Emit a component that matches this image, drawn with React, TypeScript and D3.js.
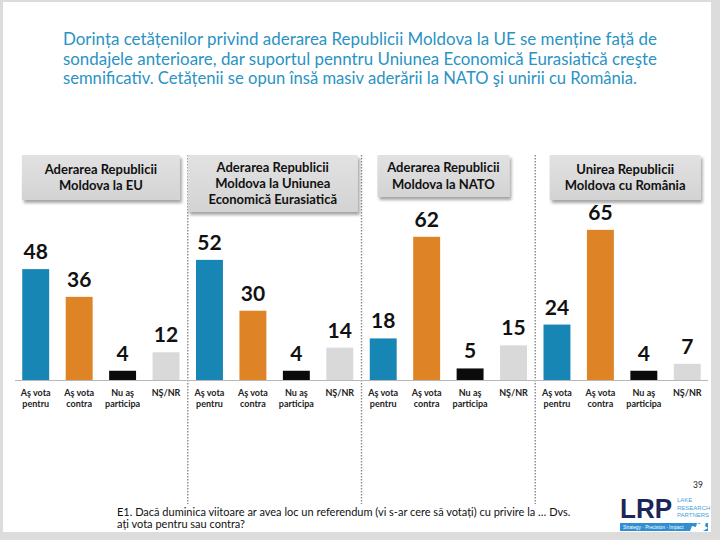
import React from "react";
import * as d3 from "d3";

const headlineLines = [
  "Dorința cetățenilor privind aderarea Republicii Moldova la UE se menține față de",
  "sondajele anterioare, dar suportul penntru Uniunea Economică Eurasiatică creşte",
  "semnificativ. Cetățenii se opun însă masiv aderării la NATO şi unirii cu România.",
];
const panelIds = ["EU", "UEE", "NATO", "RO"];
const panelTitles = [
  ["Aderarea Republicii", "Moldova la EU"],
  ["Aderarea Republicii", "Moldova la Uniunea", "Economică Eurasiatică"],
  ["Aderarea Republicii", "Moldova la NATO"],
  ["Unirea Republicii", "Moldova cu România"],
];
const categories = ["Aş vota pentru", "Aş vota contra", "Nu aş participa", "NŞ/NR"];
const categoryLines = [["Aş vota", "pentru"], ["Aş vota", "contra"], ["Nu aş", "participa"], ["NŞ/NR"]];
const valuesEU = [48, 36, 4, 12];
const valuesUEE = [52, 30, 4, 14];
const valuesNATO = [18, 62, 5, 15];
const valuesRO = [24, 65, 4, 7];
const footnoteLines = [
  "E1. Dacă duminica viitoare ar avea loc un referendum (vi s-ar cere să votați) cu privire la … Dvs.",
  "ați vota pentru sau contra?",
];
const pageNumber = "39";
const logoWords = ["LAKE", "RESEARCH", "PARTNERS"];

const seriesValues = [valuesEU, valuesUEE, valuesNATO, valuesRO];
const barColors = ["#1786b4", "#de8426", "#0b0b0b", "#d9d9d9"];
const boxWidths = [158, 170, 132, 151];
const boxHeights = [45, 57, 42, 45];
const boxOffsets = [0, -1, -5, 3];
const FONT = "Lato, 'Open Sans', sans-serif";

export default function App() {
  const W = 720, H = 540;
  const baseY = 380;
  const panelX = d3.scaleBand<string>().domain(panelIds).range([14, 709]).padding(0);
  const catX = d3
    .scaleBand<string>()
    .domain(categories)
    .range([0, panelX.bandwidth()])
    .paddingInner(0.38)
    .paddingOuter(0.19);
  const y = d3.scaleLinear().domain([0, 100]).range([baseY, baseY - 231]);
  const titleWidths = [594, 594, 574];

  return (
    <svg width={W} height={H} style={{ position: "absolute", left: 0, top: 0 }} fontFamily={FONT}>
      <defs>
        <linearGradient id="boxg" x1="0" y1="0" x2="0" y2="1">
          <stop offset="0" stopColor="#e2e2e2" />
          <stop offset="1" stopColor="#d3d3d3" />
        </linearGradient>
        <filter id="shadow" x="-10%" y="-20%" width="130%" height="160%">
          <feDropShadow dx="2" dy="3" stdDeviation="1.6" floodColor="#000" floodOpacity="0.35" />
        </filter>
      </defs>
      <rect x={0} y={0} width={W} height={H} fill="#dcdcdc" />
      <rect x={3} y={2} width={708} height={530} fill="#ffffff" />

      {headlineLines.map((t, i) => (
        <text
          key={i}
          x={63}
          y={45 + i * 19.6}
          fontSize={17}
          fill="#2a93c4"
          textLength={titleWidths[i]}
          lengthAdjust="spacingAndGlyphs"
        >
          {t}
        </text>
      ))}

      {panelIds.slice(1).map((p) => (
        <line
          key={p}
          x1={panelX(p)!}
          x2={panelX(p)!}
          y1={155}
          y2={504}
          stroke="#8a8a8a"
          strokeWidth={1.4}
          strokeDasharray="1.4,1.6"
        />
      ))}

      <line x1={15} x2={708} y1={baseY + 0.5} y2={baseY + 0.5} stroke="#b8b8b8" strokeWidth={1} />

      {panelIds.map((p, pi) => {
        const x0 = panelX(p)!;
        const cx = x0 + panelX.bandwidth() / 2 + boxOffsets[pi];
        const bw = boxWidths[pi];
        const bh = boxHeights[pi];
        const lines = panelTitles[pi];
        const lh = 16.3;
        const firstY = 155 + bh / 2 - ((lines.length - 1) * lh) / 2 + 4.5;
        return (
          <g key={p}>
            <rect
              x={pi === 1 ? x0 : cx - bw / 2}
              y={155}
              width={bw}
              height={bh}
              fill="url(#boxg)"
              filter="url(#shadow)"
            />
            {lines.map((l, li) => (
              <text
                key={li}
                x={pi === 1 ? x0 + bw / 2 : cx}
                y={firstY + li * lh}
                textAnchor="middle"
                fontSize={13}
                fontWeight="bold"
                fill="#111"
              >
                {l}
              </text>
            ))}
            {categories.map((c, ci) => {
              const v = seriesValues[pi][ci];
              const bx = x0 + catX(c)!;
              const bwid = catX.bandwidth();
              return (
                <g key={c}>
                  <rect x={bx} y={y(v)} width={bwid} height={baseY - y(v)} fill={barColors[ci]} />
                  <text
                    x={bx + bwid / 2}
                    y={y(v) - 10}
                    textAnchor="middle"
                    fontSize={21}
                    fontWeight="bold"
                    fill="#111"
                  >
                    {v}
                  </text>
                  {categoryLines[ci].map((l, li) => (
                    <text
                      key={li}
                      x={bx + bwid / 2}
                      y={395.5 + li * 11}
                      textAnchor="middle"
                      fontSize={9}
                      fontWeight="bold"
                      fill="#222"
                    >
                      {l}
                    </text>
                  ))}
                </g>
              );
            })}
          </g>
        );
      })}

      {footnoteLines.map((t, i) => (
        <text key={i} x={117} y={516 + i * 11.5} fontSize={11} fill="#111">
          {t}
        </text>
      ))}

      <text x={698} y={488} fontSize={8.5} textAnchor="middle" fill="#222">
        {pageNumber}
      </text>

      <text
        x={620}
        y={518}
        fontSize={27}
        fontWeight="bold"
        fill="#1b2757"
        fontFamily="'Liberation Sans', Arial, sans-serif"
        textLength={52}
        lengthAdjust="spacingAndGlyphs"
      >
        LRP
      </text>
      {logoWords.map((t, i) => (
        <text
          key={t}
          x={677}
          y={502 + i * 7.5}
          fontSize={6}
          fill="#4a9fd8"
          fontFamily="'Liberation Sans', Arial, sans-serif"
        >
          {t}
        </text>
      ))}
      <rect x={620} y={523} width={88} height={8} fill="#2f8fd1" />
      <text x={623} y={529} fontSize={4.8} fill="#ffffff" fontFamily="'Liberation Sans', Arial, sans-serif">
        Strategy · Precision · Impact
      </text>
      <path
        d="M690,531 L692,526 L696,527 L697,523 L700,524 L702,520 L704,523 L706,522 L705,526 L708,528 L703,531 Z"
        fill="#ffffff"
      />
    </svg>
  );
}
